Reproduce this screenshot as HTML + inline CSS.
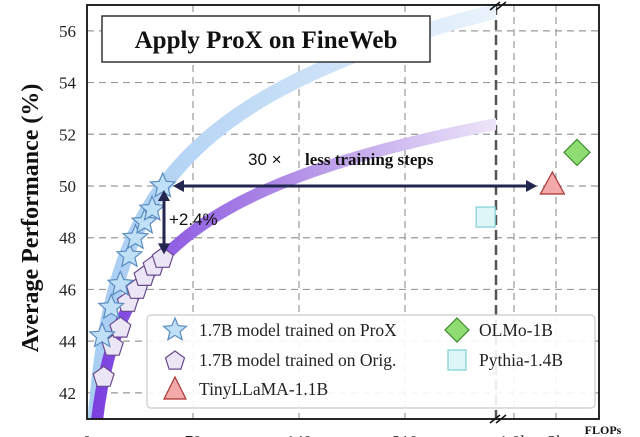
<!DOCTYPE html>
<html><head><meta charset="utf-8"><style>
html,body{margin:0;padding:0;background:#fff;width:640px;height:437px;overflow:hidden;}
svg{display:block;overflow:hidden;}
</style></head><body>
<svg id="chart" width="640" height="437" viewBox="0 0 640 437" xmlns="http://www.w3.org/2000/svg">
<defs>
<linearGradient id="gb" x1="0" x2="1" y1="0" y2="0"><stop offset="0" stop-color="#a8cdf3"/><stop offset="0.6" stop-color="#cfe3f8"/><stop offset="1" stop-color="#eef5fd"/></linearGradient>
<linearGradient id="gp" x1="0" x2="1" y1="0" y2="0"><stop offset="0" stop-color="#7a3fe0"/><stop offset="0.45" stop-color="#ae8ae6"/><stop offset="1" stop-color="#f1ecfa"/></linearGradient>
<clipPath id="pc"><rect x="87" y="5" width="409" height="414"/></clipPath>
</defs>
<g id="grid"></g>
<g id="bands" clip-path="url(#pc)"></g>
<g id="marks"></g>
<g id="axes"></g>
</svg>
<script>
const yTicks = [42, 44, 46, 48, 50, 52, 54, 56];
const xTickLabels = ["0", "70", "140", "210"];
const xTickValues = [0, 70, 140, 210];
const breakTickLabels = ["1.0k", "3k"];
const proxX = [10, 16, 22, 28, 32, 38, 43, 50];
const proxY = [44.2, 45.3, 46.2, 47.3, 48.0, 48.6, 49.1, 50.0];
const origX = [11, 17, 22, 27, 33, 38, 44, 50];
const origY = [42.6, 43.8, 44.5, 45.5, 46.0, 46.5, 46.9, 47.2];
const baselineNames = ["TinyLLaMA-1.1B", "OLMo-1B", "Pythia-1.4B"];
const baselineY = [50.0, 51.3, 48.8];
const baselineSlot = [0.78, 1.0, 0.18];
const bandProxCoef = [34.2, 4.03];
const bandOrigCoef = [35.15, 3.08];

const NS = "http://www.w3.org/2000/svg";
const L = 87, R = 599, T = 5, B = 419;
const xs = v => L + v * (106 / 70);
const ys = v => 186 - (v - 50) * 25.86;
const xr = s => 465 + s * 112;
function mk(tag, attrs, parent, txt) {
  const e = document.createElementNS(NS, tag);
  for (const k in attrs) e.setAttribute(k, attrs[k]);
  if (txt !== undefined) e.textContent = txt;
  parent.appendChild(e); return e;
}
const grid = document.getElementById('grid'), bands = document.getElementById('bands'),
      marks = document.getElementById('marks'), axes = document.getElementById('axes');

yTicks.forEach(t => {
  const l = mk('line', {x1: L, x2: R, y1: ys(t), y2: ys(t), stroke: '#9a9a9a', 'stroke-width': 1.2, 'stroke-dasharray': '7 5'}, grid);
  
  
  const tx = mk('text', {x: 76, y: ys(t) + 6, 'text-anchor': 'end', 'font-family': 'Liberation Serif, serif', 'font-size': 17, fill: '#222'}, axes, String(t));
  
  
});
xTickValues.forEach((v, i) => {
  if (v > 0) {
    const l = mk('line', {x1: xs(v), x2: xs(v), y1: T, y2: B, stroke: '#9a9a9a', 'stroke-width': 1.2, 'stroke-dasharray': '7 5'}, grid);
    
    
  }
  const tx = mk('text', {x: xs(v), y: 447, 'text-anchor': 'middle', 'font-family': 'Liberation Serif, serif', 'font-size': 17, fill: '#222'}, axes, xTickLabels[i]);
  
  
});
[514, 556].forEach((x, i) => {
  const l = mk('line', {x1: x, x2: x, y1: T, y2: B, stroke: '#9a9a9a', 'stroke-width': 1.2, 'stroke-dasharray': '7 5'}, grid);
  
  
  const tx = mk('text', {x: x, y: 447, 'text-anchor': 'middle', 'font-family': 'Liberation Serif, serif', 'font-size': 17, fill: '#222'}, axes, breakTickLabels[i]);
  
  
});
const br = mk('line', {x1: 496, x2: 496, y1: T, y2: B, stroke: '#555', 'stroke-width': 2.5, 'stroke-dasharray': '10 5'}, grid);



function band(coef, w, fill, name) {
  let pts = [];
  for (let x = 2; x <= 280; x += 2) pts.push(xs(x).toFixed(1) + ',' + ys(coef[0] + coef[1] * Math.log(x)).toFixed(1));
  const p = mk('polyline', {points: pts.join(' '), fill: 'none', stroke: fill, 'stroke-width': w, 'stroke-linecap': 'butt'}, bands);
  
  
}
band(bandProxCoef, 15, 'url(#gb)', 'prox-trend-band');
band(bandOrigCoef, 12, 'url(#gp)', 'orig-trend-band');

function star(cx, cy, r) {
  let p = [];
  for (let i = 0; i < 10; i++) { const a = -Math.PI / 2 + i * Math.PI / 5, rr = i % 2 ? r * 0.45 : r; p.push((cx + rr * Math.cos(a)).toFixed(1) + ',' + (cy + rr * Math.sin(a)).toFixed(1)); }
  return p.join(' ');
}
function pent(cx, cy, r) {
  let p = [];
  for (let i = 0; i < 5; i++) { const a = -Math.PI / 2 + i * 2 * Math.PI / 5; p.push((cx + r * Math.cos(a)).toFixed(1) + ',' + (cy + r * Math.sin(a)).toFixed(1)); }
  return p.join(' ');
}
origX.forEach((x, i) => {
  const e = mk('polygon', {points: pent(xs(x), ys(origY[i]), 11), fill: '#ebe6f5', stroke: '#6b4a8c', 'stroke-width': 1.2}, marks);
  
  
});
proxX.forEach((x, i) => {
  const e = mk('polygon', {points: star(xs(x), ys(proxY[i]), 13), fill: '#bfe0f7', stroke: '#5a8cc0', 'stroke-width': 1.2}, marks);
  
  
});
(function () {
  const tx = xr(baselineSlot[0]), ty = ys(baselineY[0]);
  const t = mk('polygon', {points: `${tx},${ty - 14} ${tx - 12},${ty + 8} ${tx + 12},${ty + 8}`, fill: '#f3a9a9', stroke: '#a33', 'stroke-width': 1.2}, marks);
  
  
  const ox = xr(baselineSlot[1]), oy = ys(baselineY[1]);
  const o = mk('polygon', {points: `${ox},${oy - 13} ${ox + 13},${oy} ${ox},${oy + 13} ${ox - 13},${oy}`, fill: '#8fdc72', stroke: '#3a8a2a', 'stroke-width': 1.2}, marks);
  
  
  const px = xr(baselineSlot[2]), py = ys(baselineY[2]);
  const s = mk('rect', {x: px - 9, y: py - 10, width: 19, height: 20, fill: '#dff6f8', stroke: '#7fcfd6', 'stroke-width': 1.2}, marks);
  
  
})();

const navy = '#23264f';
const ha = mk('line', {x1: 178, x2: 530, y1: ys(50), y2: ys(50), stroke: navy, 'stroke-width': 3}, marks);


mk('polygon', {points: `173,${ys(50)} 184,${ys(50) - 6} 184,${ys(50) + 6}`, fill: navy}, marks);
mk('polygon', {points: `537,${ys(50)} 526,${ys(50) - 6} 526,${ys(50) + 6}`, fill: navy}, marks);
const va = mk('line', {x1: 164, x2: 164, y1: ys(50) + 10, y2: ys(47.2) - 10, stroke: navy, 'stroke-width': 3}, marks);


mk('polygon', {points: `164,${ys(50) + 4} 158,${ys(50) + 15} 170,${ys(50) + 15}`, fill: navy}, marks);
mk('polygon', {points: `164,${ys(47.2) - 4} 158,${ys(47.2) - 15} 170,${ys(47.2) - 15}`, fill: navy}, marks);
const t1 = mk('text', {x: 248, y: 165, 'font-family': 'Liberation Sans, sans-serif', 'font-size': 17, fill: '#111'}, marks, '30 ×');


const t2 = mk('text', {x: 305, y: 165, 'font-family': 'Liberation Serif, serif', 'font-weight': 'bold', 'font-size': 17, fill: '#111'}, marks, 'less training steps');


const t3 = mk('text', {x: 169, y: 225, 'font-family': 'Liberation Sans, sans-serif', 'font-size': 17, fill: '#111'}, marks, '+2.4%');



const tb = mk('rect', {x: 102, y: 16, width: 328, height: 46, fill: '#fff', stroke: '#333', 'stroke-width': 1.5}, marks);


const tt = mk('text', {x: 266, y: 48, 'text-anchor': 'middle', 'font-family': 'Liberation Serif, serif', 'font-weight': 'bold', 'font-size': 25, fill: '#111'}, marks, 'Apply ProX on FineWeb');



const lg = mk('g', {}, marks);


mk('rect', {x: 147, y: 315, width: 448, height: 93, rx: 4, fill: 'rgba(255,255,255,0.9)', stroke: '#ccc', 'stroke-width': 1.2}, lg);
mk('polygon', {points: star(175, 330, 12), fill: '#bfe0f7', stroke: '#5a8cc0', 'stroke-width': 1.2}, lg);
mk('polygon', {points: pent(175, 361, 10), fill: '#ebe6f5', stroke: '#6b4a8c', 'stroke-width': 1.2}, lg);
mk('polygon', {points: `175,377 164,399 186,399`, fill: '#f3a9a9', stroke: '#a33', 'stroke-width': 1.2}, lg);
mk('polygon', {points: `457,318 469,330 457,342 445,330`, fill: '#8fdc72', stroke: '#3a8a2a', 'stroke-width': 1.2}, lg);
mk('rect', {x: 448, y: 350, width: 18, height: 20, fill: '#dff6f8', stroke: '#7fcfd6', 'stroke-width': 1.2}, lg);
[["1.7B model trained on ProX", 199, 336], ["1.7B model trained on Orig.", 199, 366], ["TinyLLaMA-1.1B", 199, 395], ["OLMo-1B", 479, 336], ["Pythia-1.4B", 479, 366]].forEach(a => {
  const e = mk('text', {x: a[1], y: a[2], 'font-family': 'Liberation Serif, serif', 'font-size': 17.5, fill: '#222'}, lg, a[0]);
  
  
});

const fr = mk('rect', {x: L, y: T, width: R - L, height: B - T, fill: 'none', stroke: '#111', 'stroke-width': 1.8}, axes);


mk('line', {x1: 490, x2: 500, y1: 10, y2: 2, stroke: '#111', 'stroke-width': 1.5}, axes);
mk('line', {x1: 496, x2: 506, y1: 10, y2: 2, stroke: '#111', 'stroke-width': 1.5}, axes);
mk('line', {x1: 490, x2: 500, y1: 423, y2: 415, stroke: '#111', 'stroke-width': 1.5}, axes);
mk('line', {x1: 496, x2: 506, y1: 423, y2: 415, stroke: '#111', 'stroke-width': 1.5}, axes);
const fl = mk('text', {x: 603, y: 434, 'text-anchor': 'middle', 'font-family': 'Liberation Serif, serif', 'font-weight': 'bold', 'font-size': 12, fill: '#111'}, axes, 'FLOPs');


const yt = mk('text', {x: 0, y: 0, transform: 'translate(38,218) rotate(-90)', 'text-anchor': 'middle', 'font-family': 'Liberation Serif, serif', 'font-weight': 'bold', 'font-size': 24, fill: '#111'}, axes, 'Average Performance (%)');


</script>
</body></html>
